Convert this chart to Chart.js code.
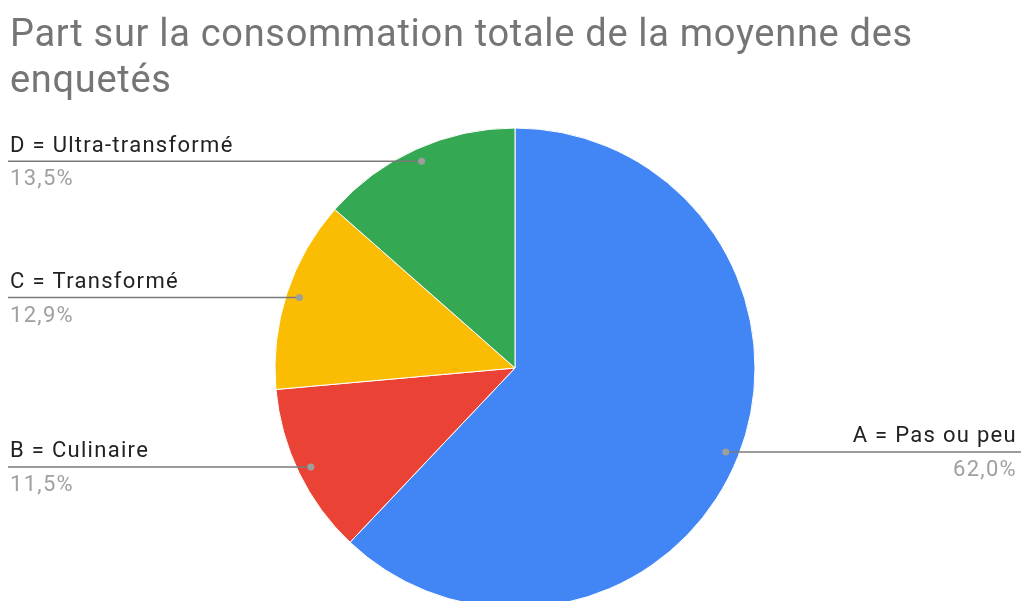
<!DOCTYPE html>
<html>
<head>
<meta charset="utf-8">
<script src="https://cdn.jsdelivr.net/npm/chart.js@4"></script>
<style>
html, body { margin: 0; padding: 0; background: #fff; overflow: hidden; }
</style>
</head>
<body>
<canvas id="camembert" width="1023" height="601"></canvas>
<script>
var titre = ['Part sur la consommation totale de la moyenne des', 'enquetés']
var categories = ['A = Pas ou peu', 'B = Culinaire', 'C = Transformé', 'D = Ultra-transformé']
var parts = [62.0, 11.5, 12.9, 13.5]
var couleurs = ['#4285F4', '#EA4335', '#FBBC04', '#34A853']

function pourcent(v)
{
    return v.toFixed(1).replace('.', ',') + '%'
}

// titre + etiquettes avec traits de rappel
var etiquettes = {
    id: 'etiquettes',
    afterDraw: function(chart)
    {
        var c = chart.ctx
        c.save()
        c.textBaseline = 'alphabetic'
        c.textAlign = 'left'
        c.font = '38px Roboto'
        c.letterSpacing = '0.7px'
        c.fillStyle = '#757575'
        c.fillText(titre[0], 10, 46)
        c.fillText(titre[1], 10, 92)

        var meta = chart.getDatasetMeta(0)
        meta.data.forEach(function(arc, i)
        {
            var p = arc.getProps(['x', 'y', 'startAngle', 'endAngle', 'outerRadius'])
            var mid = (p.startAngle + p.endAngle) / 2
            var px = p.x + Math.cos(mid) * p.outerRadius * 0.945
            var py = p.y + Math.sin(mid) * p.outerRadius * 0.945
            var droite = Math.cos(mid) > 0
            var bord = droite ? 1021 : 8

            c.strokeStyle = '#7a7a7a'
            c.lineWidth = 1.5
            c.beginPath()
            c.moveTo(bord, py)
            c.lineTo(px, py)
            c.stroke()

            c.fillStyle = '#9e9e9e'
            c.beginPath()
            c.arc(px, py, 3.5, 0, 2 * Math.PI)
            c.fill()

            c.textAlign = droite ? 'right' : 'left'
            var xt = droite ? 1017 : 10
            c.font = '22px Roboto'
            c.letterSpacing = '1.3px'
            c.fillStyle = '#222222'
            c.fillText(categories[i], xt, py - 9.5)
            c.fillStyle = '#a0a0a0'
            c.fillText(pourcent(parts[i]), xt, py + 24)
        })
        c.restore()
    }
}

var ctx = document.getElementById('camembert')
var monCamembert = new Chart(ctx,
    {
        type: 'pie',
        data:
            {
                labels: categories,
                datasets:
                    [{
                        data: parts,
                        backgroundColor: couleurs,
                        borderColor: '#ffffff',
                        borderWidth: 1,
                        radius: 240
                    }]
            },
        options:
            {
                responsive: false,
                animation: false,
                layout: { padding: { left: 275, right: 268, top: 135, bottom: 0 } },
                plugins:
                    {
                        legend: { display: false },
                        tooltip: { enabled: false }
                    }
            },
        plugins: [etiquettes]
    })
</script>
</body>
</html>
